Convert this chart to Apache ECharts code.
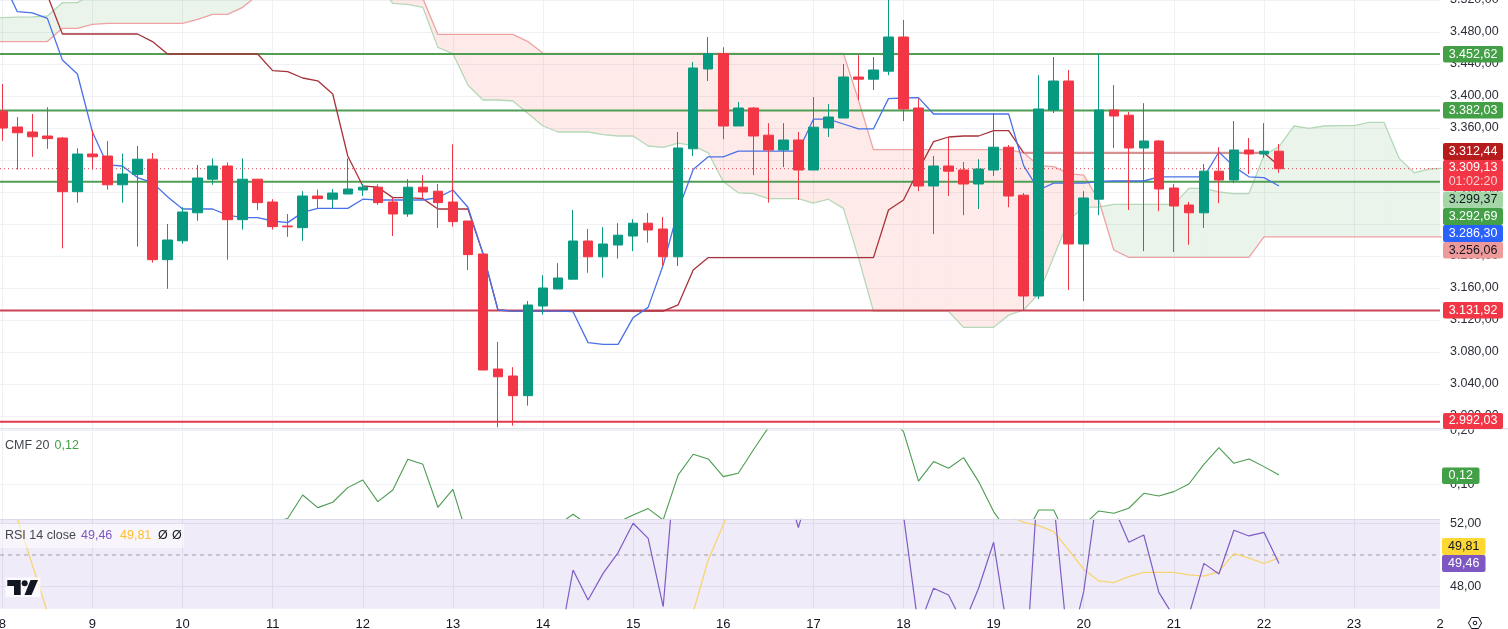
<!DOCTYPE html>
<html><head><meta charset="utf-8">
<style>html,body{margin:0;padding:0;background:#fff;overflow:hidden}#c{width:1508px;height:629px}</style>
<script src="https://cdn.jsdelivr.net/npm/echarts@6/dist/echarts.min.js"></script>
</head><body><div id="c"></div>
<script>
const opens=[3381,3361.25,3355,3350,3347.5,3280.4,3327.5,3325,3289,3302,3321,3195.4,3219,3254,3296,3312.5,3245.4,3296,3267.5,3237.5,3235.4,3275,3271,3277.5,3282.5,3286,3267.5,3252.5,3286,3281,3267.5,3243.75,3202.5,3058.75,3050,3025.4,3137.5,3158.75,3171,3218.75,3199,3213.75,3225,3241,3233.75,3199,3334,3433.75,3453,3362.5,3385,3351,3332.5,3345,3307.5,3360,3372.5,3423.75,3421,3431,3473.75,3385,3287.5,3312.5,3307.5,3290,3307.5,3336,3276,3150,3382.5,3418.75,3215,3271,3382.5,3376,3335,3343.75,3285,3263.75,3254,3306,3295,3332.5,3327.5,3331];
const closes=[3360,3354,3349,3346.7,3280.4,3327.5,3324,3289,3302.5,3321,3195.4,3220,3255,3297.5,3312.5,3245.4,3296,3266.7,3236.7,3236.5,3275,3271.7,3278.75,3283.75,3286,3266.7,3252.5,3286,3280,3266.7,3243,3201.7,3057.5,3049,3025.4,3138.75,3160,3172.5,3218.75,3199,3215,3226,3241,3232.5,3199,3335,3435,3453,3362.5,3385,3350,3332.5,3345,3307.5,3361,3373.75,3423.75,3421,3432.5,3473.75,3383.75,3287.5,3312.5,3306,3290,3308.75,3336,3275,3150,3383.75,3418.75,3215,3272.5,3382.5,3375,3335,3343.75,3283.75,3262.5,3254,3306,3295,3332.5,3327.5,3331,3309.13];
const lows=[3344,3308,3324,3334,3209.6,3266.7,3308,3283,3266.7,3211.7,3191.7,3159,3215.4,3244,3289,3195.4,3233,3257.5,3233,3224,3219,3259.6,3259.6,3277.5,3275,3264,3225,3249,3271,3235,3236.7,3182.5,3057.5,2985.8,2988,3013,3126.7,3158.75,3171,3179,3173,3196.7,3206,3216.7,3188,3187.5,3325,3418.75,3346,3362.5,3301,3266.7,3311,3270,3307.5,3348.75,3372.5,3395,3407.5,3426,3368.75,3281,3227.5,3275,3251,3258.75,3300,3261,3132.5,3146,3378.75,3157.5,3143.75,3251,3335,3257.5,3206,3256,3205,3214,3235,3266,3291,3302.5,3323,3304];
const highs=[3415,3373.75,3377.5,3386,3348.8,3334.6,3357.5,3343.75,3328,3337.5,3328.75,3240,3261,3313.75,3322,3317,3322,3296,3271,3252.5,3281,3283,3283.75,3322,3290,3289.6,3273,3296,3301,3290,3339.6,3243.75,3202.5,3092.5,3061,3143.75,3176,3191,3257.5,3233.75,3236,3241,3246,3253.75,3248.75,3355,3442.5,3473.75,3461,3392.5,3386,3366,3366,3355,3398.75,3390,3440,3451,3448.75,3525,3495,3396.7,3325,3348.75,3317.5,3321,3378.75,3338.75,3278.75,3426,3448.75,3432.5,3281,3453.75,3413.75,3380,3391,3345,3290,3267.5,3315,3336,3368.75,3347.5,3366,3340];
const tenkan=[3545,3505.4,3504,3497,3445,3427.5,3355,3314,3312.5,3298,3291.7,3274,3258.75,3258.75,3258.75,3251,3248,3248,3243.75,3241.7,3254.5,3259.6,3259.6,3259.6,3271,3270,3270,3270,3270,3273,3282.5,3261,3203.5,3132.5,3131,3131,3131,3131,3130.4,3091.7,3089.6,3089.6,3123,3135.8,3188.75,3257.5,3308,3324,3324,3331,3331,3331,3331,3331,3371,3371,3365,3359,3359,3396.7,3397.5,3398,3377.5,3377.5,3377.5,3377.5,3377.5,3377.5,3313,3282.5,3291,3291,3291,3293,3293.75,3293.75,3293.75,3299,3299,3299,3299,3330,3311.7,3299,3298,3287.5];
const kijun=[3540,3540,3540,3526,3477.5,3477.5,3477.5,3477.5,3477.5,3477.5,3468,3452.5,3452.5,3452.5,3452.5,3452.5,3452.5,3452.5,3431.7,3430.4,3422.5,3419,3402.5,3325,3287.5,3286,3273,3273,3271.7,3258.75,3258.75,3258.75,3203,3132.5,3131,3131,3131,3131,3131,3131,3131,3131,3131,3131,3131,3139,3182.5,3198,3198,3198,3198,3198,3198,3198,3198,3198,3198,3198,3198,3257.5,3270,3307.5,3343,3348.75,3350,3350,3356.7,3356.7,3329,3329,3329,3329,3329,3329,3329,3329,3329,3329,3329,3329,3329,3329,3329,3329,3329,3312.44];
const kijunFlat=[3329];
const leadAPrev=[3498];
const leadBPrev=[3468];
const leadA=[3498,3498.5,3499,3500,3516.7,3516.7,3528,3540,3545,3545,3545,3545,3545,3545,3545,3545,3545,3545,3560,3560,3560,3560,3560,3560,3560,3540,3515.8,3514.6,3510.8,3460.8,3453,3413.75,3395,3395,3393.75,3378,3362.5,3355,3355,3355,3351.7,3350,3350,3337.5,3335.8,3341,3338,3329,3293,3279,3278,3271.7,3271.7,3271.7,3266,3271,3259.6,3198,3131,3131,3131,3131,3131,3131,3110.8,3110.8,3110.8,3126,3132.5,3153,3199,3245,3261,3261,3264.6,3264.6,3264.6,3264.6,3264.6,3284.6,3284.6,3280,3278,3278,3326,3336.7,3362.5,3359.6,3362.5,3363,3363,3367,3367,3322,3304,3308.75,3309.6];
const leadB=[3468,3468,3468,3468,3484.6,3484.6,3489.6,3490.8,3490.8,3490.8,3490.8,3490.8,3490.8,3495.8,3502,3502,3510.8,3526,3540,3540,3540,3540,3540,3540,3540,3550,3545,3535,3522,3477,3477,3477,3477,3477,3477,3468,3453.3,3453.3,3453.3,3453.3,3453.3,3453.3,3453.3,3453.3,3453.3,3453.3,3453.3,3453.3,3453.3,3453.3,3453.3,3453.3,3453.3,3453.3,3453.3,3453.3,3453.3,3395,3333,3333,3333,3333,3333,3333,3333,3333,3333,3333,3329,3313,3311.7,3303,3301,3270,3207.5,3198.3,3198.3,3198.3,3198.3,3198.3,3198.3,3198.3,3198.3,3198.3,3224,3224,3224,3224,3224,3224,3224,3224,3224,3224,3224,3224,3224];
const greenLevels=[3452.62,3382.03,3292.69];
const redLevels=[3131.92,2992.9];
const lastPrice=[3309.13];
const cmf=[0.02,0.02,0.02,0.02,0.02,0.02,0.02,0.02,0.02,0.02,0.02,0.02,0.02,0.02,0.02,0.02,0.02,0.02,0.03,0.0365,0.0802,0.0568,0.0667,0.0938,0.108,0.0679,0.0895,0.1463,0.137,0.0574,0.0907,0,0,0,0,0,0.01,0.0247,0.0444,0.0247,0.02,0.03,0.0432,0.055,0.034,0.1173,0.1556,0.1469,0.1142,0.1204,0.1636,0.205,0.25,0.25,0.25,0.25,0.25,0.25,0.25,0.23,0.1975,0.106,0.142,0.1296,0.1494,0.105,0.0494,0.01,0,0.0525,0.0525,-0.006,0.0247,0.0506,0.0463,0.0556,0.0833,0.0784,0.0864,0.1006,0.137,0.1679,0.1389,0.1469,0.1327,0.1173];
const rsi=[40,40,40,40,40,40,40,40,40,40,40,40,40,40,40,40,40,40,40,40,40,40,40,40,40,40,40,40,40,40,40,40,40,40,40,40,40,43.9,49.05,47.16,48.84,50.15,52,51.05,46.74,58,58,58,58,58,58,58,55,51.73,55,58,58,58,58,58,52.5,45.4,47.9,47.47,45.6,47.9,50.8,44.7,40.6,55.5,53.4,43.8,47.7,54.5,53,50.8,51.26,47.64,46.1,46.2,49.47,48.8,51.56,51.2,51.43,49.46];
const rsiMa=[54,52.3,49.37,46.4,44,44,44,44,44,44,44,44,44,44,44,44,44,44,44,44,44,44,44,44,44,44,44,44,44,44,44,44,44,44,44,44,44,44,44,44,44,44,44,44,44,44,46.4,49.68,51.9,54,54,54,54,54,54,54,54,54,54,54,54,54,54,54,54,54,54,52.5,52.06,51.85,51.47,50.3,49.1,48.36,48.25,48.63,48.9,48.9,48.9,48.74,48.67,48.95,50.08,49.8,49.47,49.81];
const priceTicks=[3000,3040,3080,3120,3160,3200,3240,3280,3320,3360,3400,3440,3480,3520];
const cmfTicks=[0.1,0.2];
const rsiTicks=[48,52];
const dayTicks=[0,6,12,18,24,30,36,42,48,54,60,66,72,78,84,90];
const dayLabels=['8','9','10','11','12','13','14','15','16','17','18','19','20','21','22','23'];
const clippedLabel='2';
const priceTags=['3.452,62','3.382,03','3.312,44','3.309,13','3.299,37','3.292,69','3.286,30','3.256,06','3.131,92','2.992,03'];
const countdown='01:02:20';
const cmfTag='0,12';
const rsiTags=['49,81','49,46'];

const FONT='"Liberation Sans",Arial,sans-serif';
const UP='#089981',DOWN='#f23645',W=1440,PX=15.02,X0=2.3;
const xMin=(0-X0)/PX, xMax=(W-X0)/PX;
const xy=a=>a.map((v,i)=>[i,v]);
const comma2=v=>v.toFixed(2).replace('.',',');
const price=v=>{const s=v.toFixed(2).replace('.',',');return s.slice(0,1)+'.'+s.slice(1)};

const grids=[
 {left:0,width:W,top:0,height:428,show:false,outerBoundsMode:'none'},
 {left:0,width:W,top:429,height:90,show:false,outerBoundsMode:'none'},
 {left:0,width:W,top:519.3,height:89.4,show:true,backgroundColor:'#efebf9',borderWidth:0,outerBoundsMode:'none'}
];
const gridColor=['#eff1f5','#eff1f5','#dfdbeb'];
const xAxes=grids.map((g,i)=>({type:'value',gridIndex:i,min:xMin,max:xMax,
 axisLine:{show:false},
 axisTick:{show:false,customValues:dayTicks},
 splitLine:{show:true,lineStyle:{color:gridColor[i],width:1}},
 axisLabel: i===2?{show:true,customValues:dayTicks.concat([xMax]),margin:9,fontFamily:FONT,fontSize:13,color:'#131722',
   showMinLabel:true,showMaxLabel:true,hideOverlap:false,
   formatter:v=>{const k=dayTicks.indexOf(v);return k>=0?dayLabels[k]:clippedLabel}}:{show:false}}));
const yCommon=(i,min,max,ticks,fmt)=>({type:'value',gridIndex:i,position:'right',min,max,
 axisLine:{show:false},
 axisTick:{show:false,customValues:ticks},
 splitLine:{show:true,lineStyle:{color:gridColor[i],width:1}},
 axisLabel:{show:true,customValues:ticks,margin:10,fontFamily:FONT,fontSize:12.5,color:'#2a2e39',showMinLabel:true,showMaxLabel:true,hideOverlap:false,formatter:fmt}});
const yAxes=[
 yCommon(0,2985,3520,priceTicks,price),
 yCommon(1,0.0357,0.2024,cmfTicks,comma2),
 yCommon(2,46.61,52.25,rsiTicks,comma2)
];

const aAt=i=>i<0?leadAPrev[0]:leadA[i];
const bAt=i=>i<0?leadBPrev[0]:leadB[i];
function cloudItem(params,api){
 const i=api.value(0);
 if(i>=leadA.length-1) return null;
 const a0=aAt(i),b0=bAt(i),a1=aAt(i+1),b1=bAt(i+1);
 const P=(x,y)=>api.coord([x,y]);
 const GREEN='rgba(67,160,71,0.115)',RED='rgba(242,54,40,0.105)';
 const d0=a0-b0,d1=a1-b1;
 const poly=(pts,fill)=>({type:'polygon',shape:{points:pts},style:{fill}});
 if(d0*d1>=0){
  return poly([P(i,a0),P(i+1,a1),P(i+1,b1),P(i,b0)],(d0+d1)>=0?GREEN:RED);
 }
 const t=d0/(d0-d1),xc=i+t,yc=a0+(a1-a0)*t;
 return {type:'group',children:[
  poly([P(i,a0),P(xc,yc),P(i,b0)],d0>0?GREEN:RED),
  poly([P(xc,yc),P(i+1,a1),P(i+1,b1)],d1>0?GREEN:RED)
 ]};
}
const line=(name,xi,data,color,width,z,extra)=>Object.assign({type:'line',name,xAxisIndex:xi,yAxisIndex:xi,data,
 symbol:'none',showSymbol:false,silent:true,z,lineStyle:{color,width},itemStyle:{color},clip:true,animation:false},extra||{});
const hLine=(v,color,width,z,type)=>line('level',0,[[xMin,v],[xMax,v]],color,width,z,type?{lineStyle:{color,width,type}}:null);

const series=[
 {type:'custom',name:'cloud',xAxisIndex:0,yAxisIndex:0,clip:true,silent:true,z:1,animation:false,
  encode:{x:0,y:[1,2]},data:[[-1,leadAPrev[0],leadBPrev[0]]].concat(leadA.map((a,i)=>[i,a,leadB[i]])),renderItem:cloudItem},
 line('leadA',0,[[-1,leadAPrev[0]]].concat(xy(leadA)),'#b5d8b7',1.3,2),
 line('leadB',0,[[-1,leadBPrev[0]]].concat(xy(leadB)),'#eda3a3',1.3,2),
 ...greenLevels.map(v=>hLine(v,'#4f9e53',2,3)),
 hLine(redLevels[0],'#cc4456',2,3),
 hLine(redLevels[1],'#e23a4e',2,3),
 hLine(lastPrice[0],'#d8414f',1,3,[1,3]),
 line('kijun',0,xy(kijun),'#a8323a',1.3,4),
 line('kijunFlat',0,[[68,kijunFlat[0]],[84,kijunFlat[0]]],'#d98f90',2,4),
 line('tenkan',0,xy(tenkan),'#4a72e8',1.3,4),
 {type:'candlestick',name:'price',xAxisIndex:0,yAxisIndex:0,z:5,barWidth:10,silent:true,animation:false,clip:true,
  encode:{x:0,y:[1,2,3,4]},
  data:opens.map((o,i)=>[i,o,closes[i],lows[i],highs[i]]),
  itemStyle:{color:UP,color0:DOWN,borderColor:UP,borderColor0:DOWN,borderWidth:1}},
 line('cmf',1,xy(cmf),'#4b9c50',1.1,4),
 line('rsiMa',2,xy(rsiMa),'#f7d571',1.3,3),
 line('rsi',2,xy(rsi),'#7e5cc4',1.2,4),
 line('rsiMid',2,[[xMin,50],[xMax,50]],'#a09ea8',1,2,{lineStyle:{color:'#a09ea8',width:1,type:[4,4]}})
];

const Z=100;
const tag=(y,h,bg,lines,x=1443,w=60,size=12.5)=>({type:'group',z:Z,children:[
 {type:'rect',z:Z,shape:{x,y,width:w,height:h,r:2},style:{fill:bg}},
 ...lines.map(l=>({type:'text',z:Z+1,style:{x:x+w/2,y:l.y,text:l.t,fill:l.c,font:`${size}px ${FONT}`,align:'center',verticalAlign:'middle'}}))
]});
const text=(x,y,t,c,size=12.5)=>({type:'text',z:Z+1,style:{x,y,text:t,fill:c,font:`${size}px ${FONT}`,align:'left',verticalAlign:'middle'}});
const graphic=[
 {type:'rect',z:50,shape:{x:0,y:428,width:1508,height:1.5},style:{fill:'#e0e3eb'}},
 {type:'rect',z:50,shape:{x:0,y:519,width:1440,height:1},style:{fill:'#dcd9e8'}},
 tag(46,16.5,'#43a047',[{t:priceTags[0],y:54.5,c:'#fff'}]),
 tag(102,16.5,'#43a047',[{t:priceTags[1],y:110.5,c:'#fff'}]),
 tag(143,17,'#b71c1c',[{t:priceTags[2],y:151.5,c:'#fff'}]),
 tag(160,31,'#f23645',[{t:priceTags[3],y:168,c:'#fff'},{t:countdown,y:182,c:'rgba(255,255,255,0.75)'}]),
 tag(191.5,16.5,'#a5d6a7',[{t:priceTags[4],y:200,c:'#131722'}]),
 tag(208,17,'#43a047',[{t:priceTags[5],y:216.5,c:'#fff'}]),
 tag(225,17,'#2962ff',[{t:priceTags[6],y:233.5,c:'#fff'}]),
 tag(242,16.5,'#ef9a9a',[{t:priceTags[7],y:250.5,c:'#131722'}]),
 tag(302,16.5,'#f23645',[{t:priceTags[8],y:310.5,c:'#fff'}]),
 tag(413,16,'#f23645',[{t:priceTags[9],y:421,c:'#fff'}]),
 tag(467.5,16.5,'#43a047',[{t:cmfTag,y:476,c:'#fff'}],1442,37.5),
 tag(538,17,'#fdd835',[{t:rsiTags[0],y:546.5,c:'#131722'}],1442,43.5),
 tag(555,17,'#7e57c2',[{t:rsiTags[1],y:563.5,c:'#fff'}],1442,43.5),
 text(5,446,'CMF 20','#434651'),
 text(54.5,446,cmfTag,'#43a047'),
 {type:'rect',z:Z,shape:{x:0,y:524,width:184,height:24,r:2},style:{fill:'rgba(255,255,255,0.55)'}},
 text(5,536,'RSI 14 close','#434651'),
 text(81,536,rsiTags[1],'#7e57c2'),
 text(120,536,rsiTags[0],'#fbc02d'),
 text(158,536,'Ø','#131722'),
 text(172,536,'Ø','#131722'),
 {type:'rect',z:Z,shape:{x:5.5,y:577.5,width:35,height:19.5},style:{fill:'rgba(255,255,255,0.75)'}},
 {type:'polygon',z:Z+1,shape:{points:[[7.3,580],[20.7,580],[20.7,595],[14,595],[14,586],[7.3,586]]},style:{fill:'#131722'}},
 {type:'circle',z:Z+1,shape:{cx:24.7,cy:583.3,r:3},style:{fill:'#131722'}},
 {type:'polygon',z:Z+1,shape:{points:[[30.5,580],[38,580],[31.5,595],[24.5,595]]},style:{fill:'#131722'}},
 {type:'polygon',z:Z+1,shape:{points:[[1468.5,623],[1471.5,617.5],[1478.5,617.5],[1481.5,623],[1478.5,628.5],[1471.5,628.5]]},style:{fill:'none',stroke:'#131722',lineWidth:1}},
 {type:'circle',z:Z+1,shape:{cx:1475,cy:623,r:1.8},style:{fill:'none',stroke:'#131722',lineWidth:1}}
];

const chart=echarts.init(document.getElementById('c'),null,{renderer:'canvas'});
chart.setOption({animation:false,backgroundColor:'#ffffff',grid:grids,xAxis:xAxes,yAxis:yAxes,series,graphic:{elements:graphic},tooltip:{show:false},legend:{show:false}});
</script></body></html>
